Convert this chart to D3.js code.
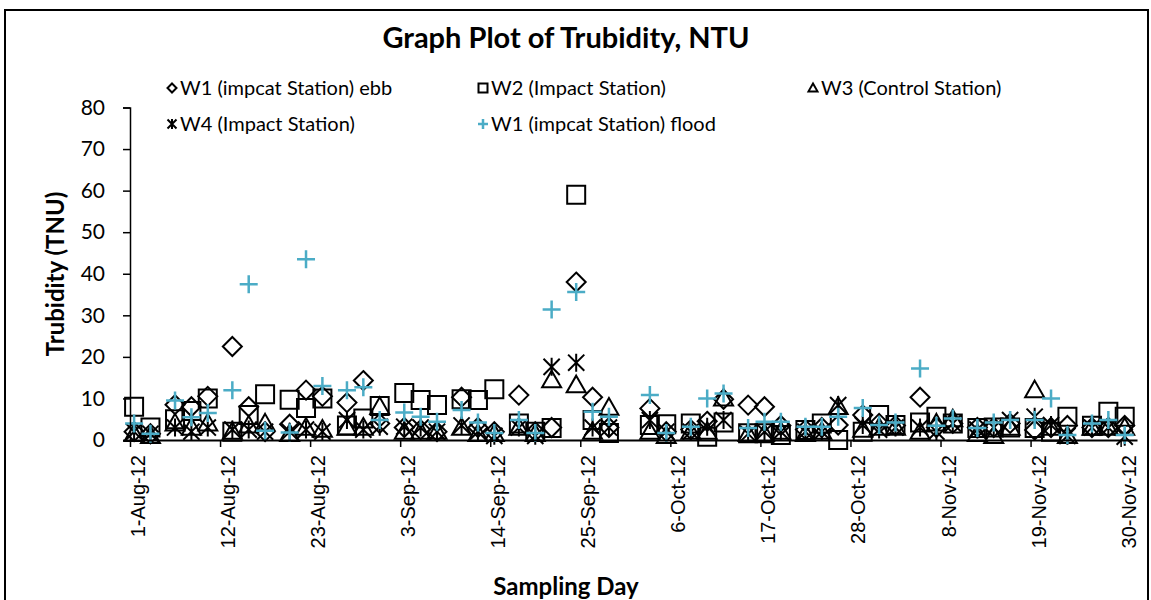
<!DOCTYPE html>
<html>
<head>
<meta charset="utf-8">
<script src="https://cdn.jsdelivr.net/npm/d3@7"></script>
<style>
  body { margin: 0; background: #fff; }
  svg { display: block; }
</style>
</head>
<body>
<svg id="chart" width="1151" height="600"></svg>
<script>
// sampling days (Mon/Wed/Fri)
var dates = ["2012-08-01","2012-08-03","2012-08-06","2012-08-08","2012-08-10","2012-08-13","2012-08-15","2012-08-17",
  "2012-08-20","2012-08-22","2012-08-24","2012-08-27","2012-08-29","2012-08-31","2012-09-03","2012-09-05","2012-09-07",
  "2012-09-10","2012-09-12","2012-09-14","2012-09-17","2012-09-19","2012-09-21","2012-09-24","2012-09-26","2012-09-28",
  "2012-10-03","2012-10-05","2012-10-08","2012-10-10","2012-10-12","2012-10-15","2012-10-17","2012-10-19","2012-10-22",
  "2012-10-24","2012-10-26","2012-10-29","2012-10-31","2012-11-02","2012-11-05","2012-11-07","2012-11-09","2012-11-12",
  "2012-11-14","2012-11-16","2012-11-19","2012-11-21","2012-11-23","2012-11-26","2012-11-28","2012-11-30"]

var w1Ebb   = [2,1.5,8.5,8,10.5,22.5,8,2,3.8,12,10.5,9,14.3,4,3,2.5,2,10.3,3,2,10.8,2,3,38,10.3,3,
  7.6,2,2.5,4.5,9.8,8.4,8,3.5,2.5,3,3.6,6,4,3.5,10.3,3,4,3,3,4,2.4,3,3.5,3,3,3.5]
var w2      = [8,3,5,7,10,2,6,11,9.7,7.7,10,3.5,5.2,8.2,11.3,9.6,8.4,9.8,9.6,12.2,4,2,2.9,59,4.8,1.7,
  3.6,3.8,4,0.8,4.2,1.6,1.6,1.2,2.4,4,0,2,6,3.6,4.2,5.6,4,2.9,3,3,2.9,2,5.6,3.4,6.8,5.6]
var w3      = [1.5,1,4,3,4,2,3.5,4,1.5,3,2.5,3,3,8,2,2,2,3,1.5,1.5,3,1.5,14.4,13.2,2,7.8,
  2,1,2,2,10,1.5,1.5,2,1.5,2,8,2.5,3,3,2,4,5,1.5,1,3,12,3,1,3,3,3]
var w4      = [2,1.5,3,2,3,2.5,2.5,2,2,2.5,2,4.8,2.5,3.2,3.2,3,2,3.5,2,1,3,1,17.6,18.6,3,3,
  4.8,2,2,3.2,4.8,1.5,2,2,2,2,8.4,3.6,2.5,3,3,2,4,2.5,3,4.8,5.6,3.6,1,3,3,0.8]
var w1Flood = [4,1.5,9.5,5.5,6.5,12,37.5,2.2,1.8,43.5,13,12,12.7,4.8,6.6,5.6,4.4,7.2,4.2,1.7,4.8,1.7,31.4,35.6,6.8,5.6,
  10.8,1.7,3.2,10,11.2,2.9,4.4,4.4,3.2,3.2,5.6,7.7,3.6,4.2,17.2,3.4,5.2,2.9,4.2,4.8,4.8,10,1.2,4,4.8,1.2]

var seriesNames = ["W1 (impcat Station) ebb", "W2 (Impact Station)", "W3 (Control Station)",
  "W4 (Impact Station)", "W1 (impcat Station) flood"]
var yTicks = [0, 10, 20, 30, 40, 50, 60, 70, 80]
var tickDates = ["2012-08-01","2012-08-12","2012-08-23","2012-09-03","2012-09-14","2012-09-25",
  "2012-10-06","2012-10-17","2012-10-28","2012-11-08","2012-11-19","2012-11-30"]
var tickLabels = ["1-Aug-12","12-Aug-12","23-Aug-12","3-Sep-12","14-Sep-12","25-Sep-12",
  "6-Oct-12","17-Oct-12","28-Oct-12","8-Nov-12","19-Nov-12","30-Nov-12"]

var parse = d3.timeParse("%Y-%m-%d")
var svg = d3.select("#chart")
var blue = "#4bacc6"
var calibri = "Lato, 'Open Sans', sans-serif"

// outer frame
svg.append("rect")
  .attr("x", 5).attr("y", 10).attr("width", 1143).attr("height", 620)
  .attr("fill", "none").attr("stroke", "black").attr("stroke-width", 2)

var x = d3.scaleTime()
  .domain([parse("2012-08-01"), parse("2012-12-02")])
  .range([130, 1137])

var y = d3.scaleLinear()
  .domain([0, 80])
  .range([440, 107.5])

// marker shapes (path centred on 0,0)
function diamond(s) { return "M0," + (-s) + "L" + s + ",0L0," + s + "L" + (-s) + ",0Z" }
function square(s) { return "M" + (-s) + "," + (-s) + "h" + 2 * s + "v" + 2 * s + "h" + (-2 * s) + "Z" }
function triangle(s) { return "M0," + (-s) + "L" + s + "," + (s * 0.75) + "L" + (-s) + "," + (s * 0.75) + "Z" }
function star(s) {
  var a = s * 0.9
  return "M" + (-a) + "," + (-a) + "L" + a + "," + a + "M" + a + "," + (-a) + "L" + (-a) + "," + a + "M0," + (-s) + "L0," + s
}
function plus(s) { return "M" + (-s) + ",0H" + s + "M0," + (-s) + "V" + s }

var series = [
  { name: seriesNames[0], values: w1Ebb,   shape: diamond,  size: 9.5, color: "black", lw: 2 },
  { name: seriesNames[1], values: w2,      shape: square,   size: 9,   color: "black", lw: 2 },
  { name: seriesNames[2], values: w3,      shape: triangle, size: 9.5, color: "black", lw: 2 },
  { name: seriesNames[3], values: w4,      shape: star,     size: 9,   color: "black", lw: 2 },
  { name: seriesNames[4], values: w1Flood, shape: plus,     size: 9,   color: blue,    lw: 2.5 }
]

// points
series.forEach(function (s) {
  svg.append("g").selectAll("path")
    .data(dates.map(function (d, i) { return [d3.timeHour.offset(parse(d), 12), s.values[i]] }))
    .join("path")
    .attr("transform", function (d) { return "translate(" + x(d[0]) + "," + y(d[1]) + ")" })
    .attr("d", s.shape(s.size))
    .attr("fill", "none")
    .attr("stroke", s.color)
    .attr("stroke-width", s.lw)
})

// y axis
var yAxis = svg.append("g")
  .attr("transform", "translate(130,0)")
  .call(d3.axisLeft(y).tickValues(yTicks).tickSize(7).tickPadding(18))
yAxis.selectAll("line, path").attr("stroke", "black").attr("stroke-width", 1.5)
yAxis.selectAll("text").attr("font-family", calibri).attr("font-size", 21).attr("fill", "black")

// x axis
var xAxis = svg.append("g")
  .attr("transform", "translate(0,440)")
  .call(d3.axisBottom(x).tickValues(tickDates.map(parse)).tickSize(7).tickSizeOuter(0)
    .tickFormat(function (d, i) { return tickLabels[i] }))
xAxis.select("path").attr("stroke", "black").attr("stroke-width", 2)
xAxis.selectAll("line").attr("stroke", "black").attr("stroke-width", 1.5)
xAxis.selectAll("text")
  .attr("font-family", "'Liberation Sans', Arial, sans-serif")
  .attr("font-size", 20)
  .attr("fill", "black")
  .attr("text-anchor", "end")
  .attr("transform", "translate(7.5,15) rotate(-90)")
  .attr("x", 0).attr("y", 0).attr("dy", "0.35em")

// titles
svg.append("text")
  .attr("x", 566).attr("y", 48)
  .attr("text-anchor", "middle")
  .attr("font-family", calibri).attr("font-weight", "bold").attr("font-size", 29)
  .text("Graph Plot of Trubidity, NTU")

svg.append("text")
  .attr("x", 566).attr("y", 595)
  .attr("text-anchor", "middle")
  .attr("font-family", calibri).attr("font-weight", "bold").attr("font-size", 24)
  .text("Sampling Day")

svg.append("text")
  .attr("transform", "translate(64,274) rotate(-90)")
  .attr("text-anchor", "middle")
  .attr("font-family", calibri).attr("font-weight", "bold").attr("font-size", 24)
  .text("Trubidity (TNU)")

// legend
var legendPos = [[172, 88], [483, 88], [813, 88], [172, 124], [483, 124]]
series.forEach(function (s, i) {
  var g = svg.append("g").attr("transform", "translate(" + legendPos[i][0] + "," + legendPos[i][1] + ")")
  g.append("path")
    .attr("d", s.shape(s === series[3] || s === series[4] ? 5 : 4.5))
    .attr("fill", "none").attr("stroke", s.color).attr("stroke-width", s.lw)
  g.append("text")
    .attr("x", 8).attr("dy", "0.35em")
    .attr("font-family", calibri).attr("font-size", 20)
    .text(s.name)
})
</script>
</body>
</html>
